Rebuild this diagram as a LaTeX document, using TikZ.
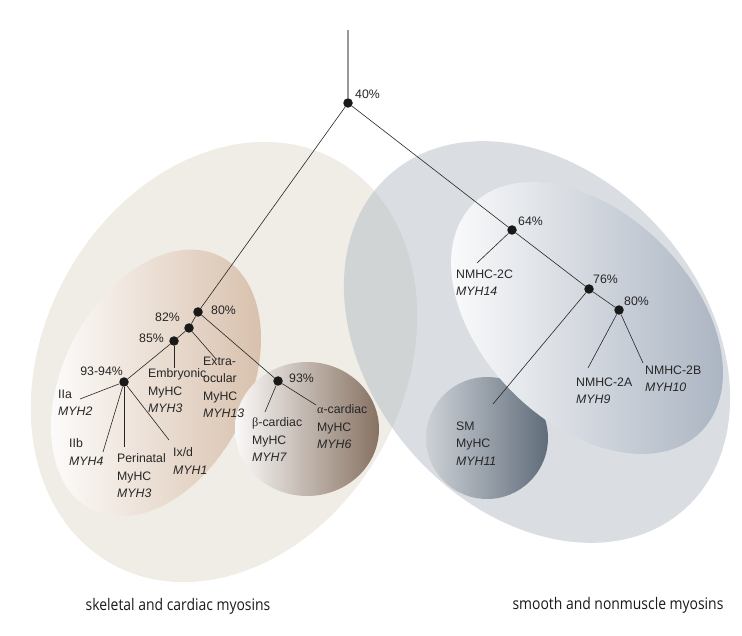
\documentclass[tikz,border=0pt]{standalone}
\usepackage{fontspec}
\setmainfont{Liberation Sans}
\newfontfamily\legendfont[FakeStretch=0.87]{Open Sans}
\newfontfamily\grec{Liberation Serif}
\definecolor{beige}{RGB}{240,237,231}
\definecolor{tan}{RGB}{214,189,168}
\definecolor{brun}{RGB}{135,114,98}
\definecolor{grisbleu}{RGB}{173,182,191}
\definecolor{bleuclair}{RGB}{166,176,190}
\definecolor{ardoise}{RGB}{96,108,122}
\definecolor{ardoiseclair}{RGB}{206,210,215}
\begin{document}
\begin{tikzpicture}[x=1pt,y=1pt,
  point/.style={circle,fill=black!90,inner sep=0pt,minimum size=9.5pt},
  pct/.style={inner sep=0pt,text=black!85,font=\fontsize{12.3}{14}\selectfont},
  etiq/.style={anchor=north west,align=left,inner sep=0pt,text=black!85,font=\fontsize{12.3}{17.5}\selectfont},
  branche/.style={line width=0.6pt,black!85}]
\useasboundingbox (0,0) rectangle (742,-636);
%ellipses
\fill[beige] (224,-362) ellipse [x radius=231,y radius=180,rotate=61];
\shade[left color=white,right color=tan] (156,-383) ellipse [x radius=142,y radius=93,rotate=63];
\fill[grisbleu,fill opacity=0.45] (537,-342) ellipse [x radius=223,y radius=167,rotate=-49];
\shade[left color=ardoiseclair,right color=ardoise] (487,-438) circle [radius=61];
\shade[left color=white,right color=bleuclair] (587,-318) ellipse [x radius=161,y radius=105,rotate=-45];
\shade[left color=white!96!brun,right color=brun] (307,-429) ellipse [x radius=72,y radius=67];
%fin
%noeuds
\node[point] (n40) at (348,-103) {};
\node[point] (n80) at (198,-312) {};
\node[point] (n82) at (189,-328) {};
\node[point] (n85) at (174,-341) {};
\node[point] (n9394) at (124,-382) {};
\node[point] (n93) at (278,-381) {};
\node[point] (n64) at (512,-230) {};
\node[point] (n76) at (589,-289) {};
\node[point] (n80b) at (619,-310) {};
\coordinate (haut) at (348,-30);
\coordinate (fIIa) at (80,-399);
\coordinate (fIIb) at (103,-452);
\coordinate (fperi) at (124,-447);
\coordinate (fIxd) at (169,-440);
\coordinate (fembr) at (174,-368);
\coordinate (fextra) at (216,-359);
\coordinate (fbeta) at (265,-412);
\coordinate (falpha) at (316,-405);
\coordinate (f2C) at (477,-263);
\coordinate (f2A) at (588,-368);
\coordinate (f2B) at (643,-363);
\coordinate (fSM) at (493,-404);
%fin
%branches
\draw[line width=1.3pt,gray!80] (haut) -- (n40);
\draw[branche] (n40) -- (n80);
\draw[branche] (n40) -- (n64);
\draw[branche] (n80) -- (n82);
\draw[branche] (n80) -- (n93);
\draw[branche] (n82) -- (n85);
\draw[branche] (n82) -- (fextra);
\draw[branche] (n85) -- (n9394);
\draw[branche] (n85) -- (fembr);
\foreach \f in {fIIa,fIIb,fperi,fIxd}
  \draw[branche] (n9394) -- (\f);
\draw[branche] (n93) -- (fbeta);
\draw[branche] (n93) -- (falpha);
\draw[branche] (n64) -- (f2C);
\draw[branche] (n64) -- (n76);
\draw[branche] (n76) -- (fSM);
\draw[branche] (n76) -- (n80b);
\draw[branche] (n80b) -- (f2A);
\draw[branche] (n80b) -- (f2B);
%fin
%pourcentages
\node[pct,anchor=west] (p40) at (355,-94) {40\%};
\node[pct,anchor=west] (p80) at (211,-310) {80\%};
\node[pct,anchor=east] (p82) at (180,-317) {82\%};
\node[pct,anchor=east] (p85) at (164,-338) {85\%};
\node[pct,anchor=east] (p9394) at (123,-371) {93-94\%};
\node[pct,anchor=west] (p93) at (289,-378) {93\%};
\node[pct,anchor=west] (p64) at (518,-221) {64\%};
\node[pct,anchor=west] (p76) at (593,-279) {76\%};
\node[pct,anchor=west] (p80b) at (624,-301) {80\%};
%etiquettes
\node[etiq] (lIIa) at (58,-389.5) {IIa\\\textit{MYH2}};
\node[etiq] (lIIb) at (69,-438.5) {IIb\\\textit{MYH4}};
\node[etiq] (lperi) at (117,-453.5) {Perinatal\\MyHC\\\textit{MYH3}};
\node[etiq] (lIxd) at (173,-447.5) {Ix/d\\\textit{MYH1}};
\node[etiq] (lembr) at (148,-368.5) {Embryonic\\MyHC\\\textit{MYH3}};
\node[etiq] (lextra) at (203,-356.5) {Extra-\\ocular\\MyHC\\\textit{MYH13}};
\node[etiq] (lbeta) at (252,-417.5) {{\grec β}-cardiac\\MyHC\\\textit{MYH7}};
\node[etiq] (lalpha) at (317,-404.5) {{\grec α}-cardiac\\MyHC\\\textit{MYH6}};
\node[etiq] (l2C) at (456,-269.5) {NMHC-2C\\\textit{MYH14}};
\node[etiq] (l2A) at (576,-377.5) {NMHC-2A\\\textit{MYH9}};
\node[etiq] (l2B) at (645,-365.5) {NMHC-2B\\\textit{MYH10}};
\node[etiq] (lSM) at (456,-421.5) {SM\\MyHC\\\textit{MYH11}};
%legende
\node[font=\legendfont\fontsize{16}{18}\selectfont,text=black!90] (cap1) at (178,-606) {skeletal and cardiac myosins};
\node[font=\legendfont\fontsize{16}{18}\selectfont,text=black!90] (cap2) at (618,-605) {smooth and nonmuscle myosins};
%fin
\end{tikzpicture}
\end{document}
